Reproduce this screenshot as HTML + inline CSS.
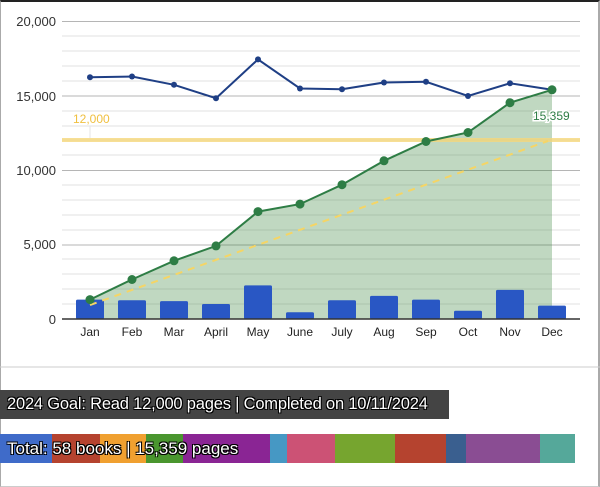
<!DOCTYPE html>
<html><head><meta charset="utf-8"><style>
body{margin:0;width:600px;height:486px;overflow:hidden;background:#fff;font-family:"Liberation Sans",Arial,sans-serif}
.wrap{position:absolute;left:0;top:0;width:597px;height:484px;border-left:1px solid #aaa;border-right:2px solid #aaa;border-bottom:1px solid #ccc;border-top:2px solid #222}
.goal{position:absolute;left:0;top:390px;width:449px;height:29px;background:#444;color:#fff;font-size:16.5px;line-height:29px;padding-left:7px;box-sizing:border-box;white-space:nowrap;letter-spacing:-0.2px;text-shadow:-1px -1px 0 #000,1px -1px 0 #000,-1px 1px 0 #000,1px 1px 0 #000}
.bar{position:absolute;left:0;top:434px;height:29px;width:575px;display:flex}
.bar div{height:100%}
.tot{position:absolute;left:7px;top:434px;line-height:29px;color:#fff;font-size:17px;white-space:nowrap;text-shadow:-1px -1px 0 #000,1px -1px 0 #000,-1px 1px 0 #000,1px 1px 0 #000}
</style></head><body>
<div class="wrap"></div>
<svg width="600" height="370" style="position:absolute;left:0;top:0" font-family="Liberation Sans, Arial, sans-serif">
<g stroke="#e2e2e2" stroke-width="1">
<line x1="62" x2="580" y1="36" y2="36"/><line x1="62" x2="580" y1="51" y2="51"/><line x1="62" x2="580" y1="66" y2="66"/><line x1="62" x2="580" y1="81" y2="81"/>
<line x1="62" x2="580" y1="111" y2="111"/><line x1="62" x2="580" y1="126" y2="126"/><line x1="62" x2="580" y1="140" y2="140"/><line x1="62" x2="580" y1="155" y2="155"/>
<line x1="62" x2="580" y1="185" y2="185"/><line x1="62" x2="580" y1="200" y2="200"/><line x1="62" x2="580" y1="215" y2="215"/><line x1="62" x2="580" y1="230" y2="230"/>
<line x1="62" x2="580" y1="259" y2="259"/><line x1="62" x2="580" y1="274" y2="274"/><line x1="62" x2="580" y1="289" y2="289"/><line x1="62" x2="580" y1="304" y2="304"/>
</g>
<g stroke="#b5b5b5" stroke-width="1">
<line x1="62" x2="580" y1="21.5" y2="21.5"/><line x1="62" x2="580" y1="96" y2="96"/><line x1="62" x2="580" y1="170.5" y2="170.5"/><line x1="62" x2="580" y1="245" y2="245"/>
</g>
<g font-size="13" fill="#333" text-anchor="end">
<text x="56" y="26">20,000</text><text x="56" y="101">15,000</text><text x="56" y="175">10,000</text><text x="56" y="249">5,000</text><text x="56" y="324">0</text>
</g>
<polygon fill="#2e7d32" fill-opacity="0.3" points="90,319 90,299.6 132,279.5 174,260.8 216,245.9 258,211.6 300,204.1 342,184.7 384,160.8 426,141.5 468,132.5 510,102.7 552,89.8 552,319"/>
<rect x="62" y="138" width="518" height="4" fill="#f5d77a" opacity="0.8"/>
<line x1="90" y1="126" x2="90" y2="138" stroke="#e5e5e5"/>
<text x="73" y="123" font-size="12" fill="#f0c040">12,000</text>
<g fill="#2957c4">
<rect x="76" y="299.6" width="28" height="19.4" rx="1.5"/><rect x="118" y="300.3" width="28" height="18.7" rx="1.5"/><rect x="160" y="301.1" width="28" height="17.9" rx="1.5"/><rect x="202" y="304" width="28" height="15" rx="1.5"/><rect x="244" y="285.4" width="28" height="33.6" rx="1.5"/><rect x="286" y="312.3" width="28" height="6.7" rx="1.5"/><rect x="328" y="300.3" width="28" height="18.7" rx="1.5"/><rect x="370" y="295.9" width="28" height="23.1" rx="1.5"/><rect x="412" y="299.6" width="28" height="19.4" rx="1.5"/><rect x="454" y="310.8" width="28" height="8.2" rx="1.5"/><rect x="496" y="289.9" width="28" height="29.1" rx="1.5"/><rect x="538" y="305.6" width="28" height="13.4" rx="1.5"/>
</g>
<line x1="62" x2="580" y1="319" y2="319" stroke="#333" stroke-width="1.5"/>
<line x1="90" y1="305" x2="548" y2="141" stroke="#f5d565" stroke-width="2" stroke-dasharray="7,6"/>
<polyline fill="none" stroke="#1f3f85" stroke-width="2" points="90,77.3 132,76.5 174,84.8 216,98.2 258,59.4 300,88.5 342,89.2 384,82.5 426,81.8 468,96 510,83.3 552,89.8"/>
<g fill="#1f3f85"><circle cx="90" cy="77.3" r="3"/><circle cx="132" cy="76.5" r="3"/><circle cx="174" cy="84.8" r="3"/><circle cx="216" cy="98.2" r="3"/><circle cx="258" cy="59.4" r="3"/><circle cx="300" cy="88.5" r="3"/><circle cx="342" cy="89.2" r="3"/><circle cx="384" cy="82.5" r="3"/><circle cx="426" cy="81.8" r="3"/><circle cx="468" cy="96" r="3"/><circle cx="510" cy="83.3" r="3"/></g>
<polyline fill="none" stroke="#2e7d45" stroke-width="2" points="90,299.6 132,279.5 174,260.8 216,245.9 258,211.6 300,204.1 342,184.7 384,160.8 426,141.5 468,132.5 510,102.7 552,89.8"/>
<g fill="#2e7d45"><circle cx="90" cy="299.6" r="4.5"/><circle cx="132" cy="279.5" r="4.5"/><circle cx="174" cy="260.8" r="4.5"/><circle cx="216" cy="245.9" r="4.5"/><circle cx="258" cy="211.6" r="4.5"/><circle cx="300" cy="204.1" r="4.5"/><circle cx="342" cy="184.7" r="4.5"/><circle cx="384" cy="160.8" r="4.5"/><circle cx="426" cy="141.5" r="4.5"/><circle cx="468" cy="132.5" r="4.5"/><circle cx="510" cy="102.7" r="4.5"/><circle cx="552" cy="89.8" r="4.5"/></g>
<text x="533" y="120" font-size="12" fill="#2e7d45" stroke="#fff" stroke-width="3" paint-order="stroke">15,359</text>
<g font-size="12" fill="#222" text-anchor="middle">
<text x="90" y="336">Jan</text><text x="132" y="336">Feb</text><text x="174" y="336">Mar</text><text x="216" y="336">April</text><text x="258" y="336">May</text><text x="300" y="336">June</text><text x="342" y="336">July</text><text x="384" y="336">Aug</text><text x="426" y="336">Sep</text><text x="468" y="336">Oct</text><text x="510" y="336">Nov</text><text x="552" y="336">Dec</text>
</g>
<line x1="0" x2="600" y1="367" y2="367" stroke="#ccc"/>
</svg>
<div class="goal">2024 Goal: Read 12,000 pages | Completed on 10/11/2024</div>
<div class="bar">
<div style="width:52px;background:#3f6bc9"></div><div style="width:48px;background:#b5432f"></div><div style="width:46px;background:#f0a030"></div><div style="width:37px;background:#4a962f"></div><div style="width:87px;background:#8a2594"></div><div style="width:17px;background:#4698c4"></div><div style="width:48px;background:#cc5275"></div><div style="width:60px;background:#76a52f"></div><div style="width:51px;background:#b5432f"></div><div style="width:20px;background:#3a5f8f"></div><div style="width:74px;background:#8a4d93"></div><div style="width:35px;background:#55a89a"></div>
</div>
<div class="tot">Total: 58 books | 15,359 pages</div>
</body></html>
